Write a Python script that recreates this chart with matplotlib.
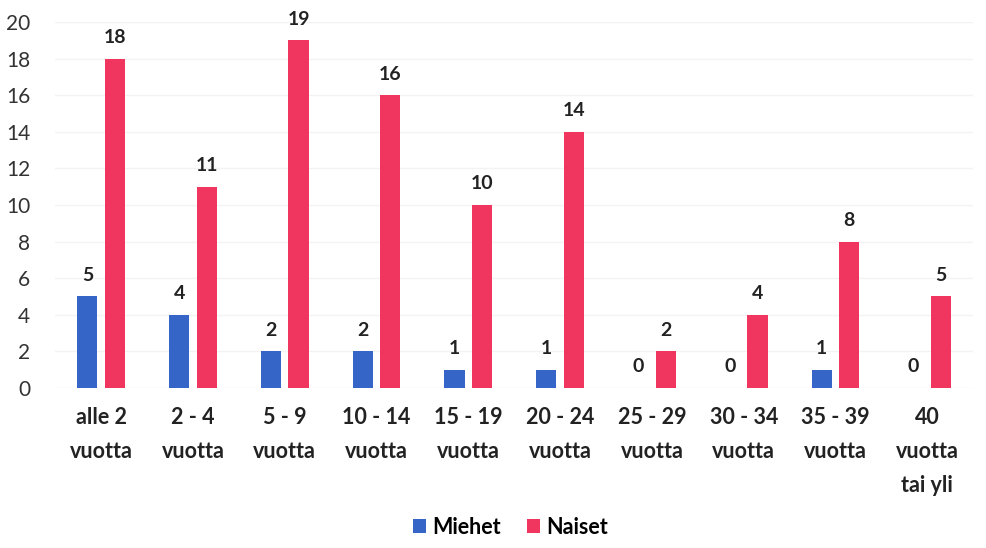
import numpy as np
import matplotlib.pyplot as plt

categories = ['alle 2\nvuotta', '2 - 4\nvuotta', '5 - 9\nvuotta', '10 - 14\nvuotta',
              '15 - 19\nvuotta', '20 - 24\nvuotta', '25 - 29\nvuotta', '30 - 34\nvuotta',
              '35 - 39\nvuotta', '40\nvuotta\ntai yli']
miehet = [5, 4, 2, 2, 1, 1, 0, 0, 1, 0]
naiset = [18, 11, 19, 16, 10, 14, 2, 4, 8, 5]

plt.rcParams['font.family'] = ['Lato', 'DejaVu Sans']

fig = plt.figure(figsize=(9.87, 5.48), dpi=100)
ax = fig.add_axes([0.056, 0.292, 0.930, 0.668])

x = np.arange(len(categories))
w = 0.22
off = 0.15
b1 = ax.bar(x - off, miehet, w, color='#3565c6', label='Miehet', zorder=3)
b2 = ax.bar(x + off, naiset, w, color='#f0365f', label='Naiset', zorder=3)

for bars in (b1, b2):
    for r in bars:
        ax.annotate(f'{int(r.get_height())}', (r.get_x() + r.get_width() / 2, r.get_height()),
                    xytext=(0, 9), textcoords='offset points', ha='center', va='bottom',
                    fontsize=14, fontweight='bold', color='#222222')

ax.set_xlim(-0.5, len(categories) - 0.5)
ax.set_ylim(0, 20)
ax.set_yticks(range(0, 21, 2))
ax.set_xticks(x)
ax.set_xticklabels(categories, fontsize=15.5, fontweight='bold', color='#222222',
                   linespacing=1.75, va='top')
ax.tick_params(axis='y', labelsize=15, length=0, pad=18, labelcolor='#333333')
ax.tick_params(axis='x', length=0, pad=14)
for s in ax.spines.values():
    s.set_visible(False)
ax.grid(axis='y', color='#f3f3f3', linewidth=1, zorder=0)

fig.legend(handles=[b1, b2], loc='center', bbox_to_anchor=(0.517, 0.038), ncol=2,
           frameon=False, prop={'size': 15.5, 'weight': 'bold'},
           handlelength=0.6, handleheight=0.6, handletextpad=0.3, columnspacing=1.2)

fig.savefig('out.png', dpi=100)
